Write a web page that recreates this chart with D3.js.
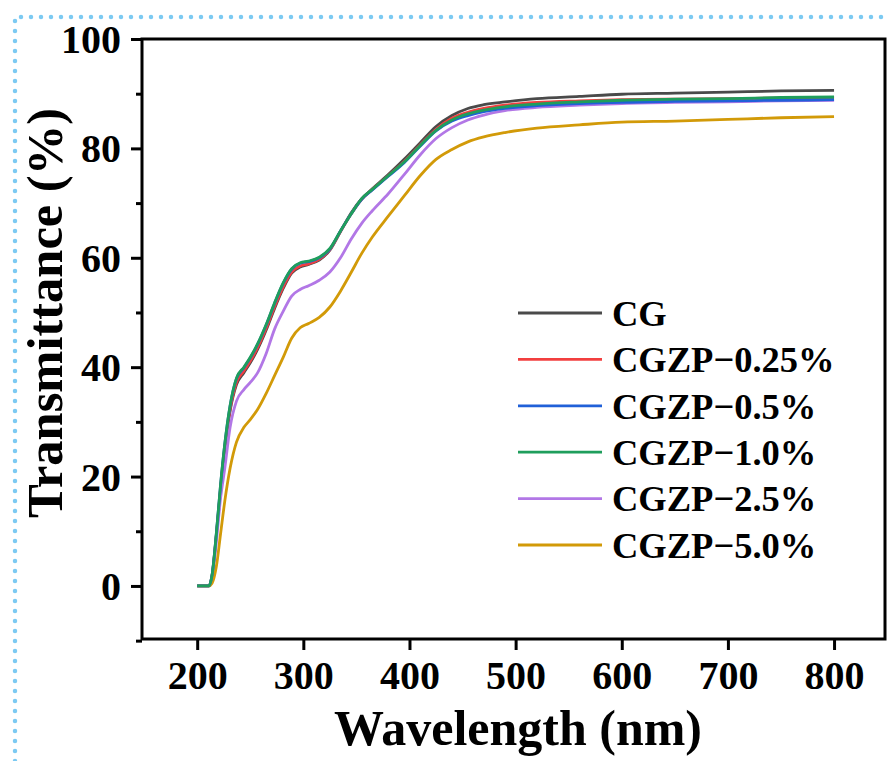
<!DOCTYPE html>
<html lang="en">
<head>
<meta charset="UTF-8">
<title>Transmittance</title>
<script src="https://d3js.org/d3.v7.min.js"></script>
<style>
    body { margin: 0; background: #fff; }
    svg text { font-family: "Liberation Serif", "Times New Roman", serif; font-weight: bold; }
</style>
</head>
<body>
<svg id="chart" width="888" height="761"></svg>
<script>
    // wavelength grid (nm)
    const wavelength = [200, 211, 214, 218, 222, 226, 231, 237, 244, 250, 257, 265, 273, 281, 289, 297, 305, 315, 325, 335,
        345, 355, 365, 380, 395, 410, 425, 440, 455, 470, 490, 520, 560, 600, 650, 700, 750, 800];

    const seriesNames = ["CG", "CGZP\u22120.25%", "CGZP\u22120.5%", "CGZP\u22121.0%", "CGZP\u22122.5%", "CGZP\u22125.0%"];
    const seriesColors = ["#4a4a4a", "#f23f3f", "#2060d8", "#1f9e5c", "#b277e6", "#d29a08"];

    const cg = [0, 0, 1.8, 9, 17.5, 25, 32, 36.8, 39, 40.8, 43.3, 46.8, 50.8, 54.4, 57.2, 58.3, 58.8, 59.6, 61.4, 64.8,
        68.2, 70.8, 72.6, 75.2, 78, 81, 84, 86, 87.3, 88, 88.5, 89.1, 89.5, 89.9, 90.1, 90.3, 90.5, 90.6];
    const cgzp025 = [0, 0, 1.9, 9.2, 17.8, 25.3, 32.3, 37.2, 39.3, 41.1, 43.6, 47.1, 51.1, 54.7, 57.4, 58.5, 58.9, 59.7, 61.5, 64.8,
        68, 70.7, 72.5, 75, 77.6, 80.6, 83.5, 85.5, 86.6, 87.3, 87.9, 88.4, 88.7, 88.9, 89, 89.1, 89.2, 89.3];
    const cgzp05 = [0, 0, 2, 9.5, 18.4, 25.9, 32.9, 37.9, 39.9, 41.7, 44.2, 47.7, 51.7, 55.3, 57.9, 59, 59.3, 60, 61.6, 64.9,
        68, 70.7, 72.4, 74.9, 77.4, 80.4, 83.2, 85, 86, 86.7, 87.3, 87.8, 88.2, 88.4, 88.6, 88.7, 88.8, 88.9];
    const cgzp10 = [0, 0, 2, 9.5, 18.5, 26, 33, 38, 40, 41.8, 44.3, 47.8, 51.8, 55.4, 58, 59.1, 59.4, 60.1, 61.7, 64.9,
        68, 70.8, 72.5, 75, 77.5, 80.5, 83.3, 85.2, 86.3, 87, 87.6, 88.1, 88.5, 88.8, 89, 89.1, 89.3, 89.4];
    const cgzp25 = [0, 0, 1.5, 8, 16, 21.5, 29, 33.8, 35.9, 37.2, 39, 42.5, 47, 50.2, 53, 54.2, 54.9, 55.9, 57.4, 60,
        63.4, 66.3, 68.6, 71.7, 75.2, 78.8, 81.8, 83.8, 85.2, 86.1, 86.9, 87.5, 87.9, 88.2, 88.4, 88.5, 88.7, 88.8];
    const cgzp50 = [0, 0, 0.5, 3.5, 9.5, 15.5, 21.5, 26.3, 29, 30.4, 32.3, 35.2, 38.5, 41.8, 45.3, 47.2, 48, 49.1, 51, 53.9,
        57.3, 60.8, 63.8, 67.6, 71.3, 75, 78, 79.8, 81.2, 82.1, 82.9, 83.7, 84.3, 84.8, 85, 85.3, 85.6, 85.8];

    const allValues = [cg, cgzp025, cgzp05, cgzp10, cgzp25, cgzp50];

    const xTicks = [200, 300, 400, 500, 600, 700, 800];
    const yTicks = [0, 20, 40, 60, 80, 100];
    const yMinorTicks = [-10, 10, 30, 50, 70, 90];

    const svg = d3.select("#chart");
    const plotL = 142, plotR = 885, plotT = 39, plotB = 639;

    const x = d3.scaleLinear().domain([148, 848]).range([plotL, plotR]);
    const y = d3.scaleLinear().domain([-9.7, 100]).range([plotB, plotT]);

    // dotted blue border
    svg.append("path")
        .attr("d", "M15,761V17H888")
        .attr("fill", "none")
        .attr("stroke", "#7ccaf2")
        .attr("stroke-width", 4.5)
        .attr("stroke-linecap", "round")
        .attr("stroke-dasharray", "0 10");

    // data lines
    const line = d3.line()
        .x((d, i) => x(wavelength[i]))
        .y(d => y(d))
        .curve(d3.curveMonotoneX);

    // draw order so green ends up on top like the original
    const order = [0, 1, 4, 5, 2, 3];
    order.forEach(k => {
        svg.append("path")
            .datum(allValues[k])
            .attr("d", line)
            .attr("fill", "none")
            .attr("stroke", seriesColors[k])
            .attr("stroke-width", 2.8);
    });

    // frame
    svg.append("rect")
        .attr("x", plotL).attr("y", plotT)
        .attr("width", plotR - plotL).attr("height", plotB - plotT)
        .attr("fill", "none")
        .attr("stroke", "#000")
        .attr("stroke-width", 3);

    // axes
    const xAxis = svg.append("g")
        .attr("transform", `translate(0,${plotB})`)
        .call(d3.axisBottom(x).tickValues(xTicks).tickSize(11).tickPadding(11));
    const yAxis = svg.append("g")
        .attr("transform", `translate(${plotL},0)`)
        .call(d3.axisLeft(y).tickValues(yTicks).tickSize(11).tickPadding(10));
    svg.append("g")
        .attr("transform", `translate(${plotL},0)`)
        .call(d3.axisLeft(y).tickValues(yMinorTicks).tickSize(6).tickFormat(""))
        .call(g => g.select(".domain").remove())
        .selectAll("line").attr("stroke", "#000").attr("stroke-width", 3);

    [xAxis, yAxis].forEach(g => {
        g.select(".domain").remove();
        g.selectAll("line").attr("stroke", "#000").attr("stroke-width", 3);
        g.selectAll("text")
            .attr("fill", "#000")
            .style("font-size", "40px")
            .style("font-family", "'Liberation Serif', serif")
            .style("font-weight", "bold");
    });
    yAxis.selectAll("text").attr("dy", "0.34em");

    // axis titles
    svg.append("text")
        .attr("x", 518).attr("y", 745)
        .attr("text-anchor", "middle")
        .style("font-size", "50px")
        .text("Wavelength (nm)");

    svg.append("text")
        .attr("transform", "translate(62,313) rotate(-90)")
        .attr("text-anchor", "middle")
        .style("font-size", "50.5px")
        .text("Transmittance (%)");

    // legend
    const legend = svg.append("g").attr("transform", "translate(518,313)");
    seriesNames.forEach((name, i) => {
        const row = legend.append("g").attr("transform", `translate(0,${i * 46.4})`);
        row.append("line")
            .attr("x1", 0).attr("x2", 84)
            .attr("stroke", seriesColors[i])
            .attr("stroke-width", 2.8);
        row.append("text")
            .attr("x", 94).attr("dy", "0.35em")
            .style("font-size", "36.5px")
            .text(name);
    });
</script>
</body>
</html>
